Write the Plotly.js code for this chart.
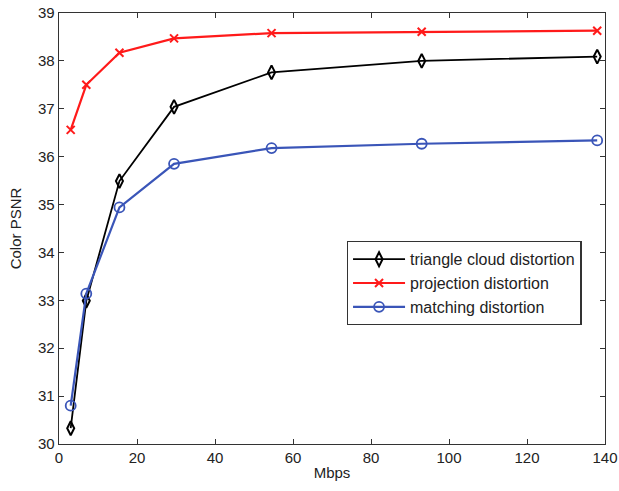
<!DOCTYPE html>
<html>
<head>
<meta charset="utf-8">
<script src="https://cdn.plot.ly/plotly-3.0.1.min.js"></script>
<style>html,body{margin:0;padding:0;background:#fff;}#chart{width:619px;height:491px;}</style>
</head>
<body>
<div id="chart"></div>
<script>
const mbps = [3, 7, 15.5, 29.5, 54.5, 93, 138];
const triangleCloud = [30.33, 32.99, 35.49, 37.04, 37.76, 38.0, 38.09];
const projection = [36.56, 37.5, 38.17, 38.47, 38.58, 38.61, 38.63];
const matching = [30.8, 33.14, 34.94, 35.85, 36.18, 36.27, 36.34];
const seriesNames = ['triangle cloud distortion', 'projection distortion', 'matching distortion'];

const font = 'Liberation Sans, Arial, sans-serif';
const traces = [
  {x: mbps, y: triangleCloud, name: seriesNames[0], mode: 'lines+markers', type: 'scatter',
   line: {color: '#000000', width: 1.8},
   marker: {symbol: 'diamond-tall-open', size: 10, color: '#000000', line: {width: 2, color: '#000000'}}},
  {x: mbps, y: projection, name: seriesNames[1], mode: 'lines+markers', type: 'scatter',
   line: {color: '#ff1a1a', width: 2.2},
   marker: {symbol: 'x-thin-open', size: 8, color: '#ff1a1a', line: {width: 2, color: '#ff1a1a'}}},
  {x: mbps, y: matching, name: seriesNames[2], mode: 'lines+markers', type: 'scatter',
   line: {color: '#3a55b8', width: 2.2},
   marker: {symbol: 'circle-open', size: 10, color: '#3a55b8', line: {width: 1.8, color: '#3a55b8'}}}
];

const axisCommon = {
  showgrid: false, zeroline: false, showline: true, mirror: 'ticks',
  linecolor: '#333', linewidth: 1.3, ticks: 'inside', ticklen: 5, tickcolor: '#333',
  tickfont: {family: font, size: 15, color: '#222'}
};

const layout = {
  width: 619, height: 491,
  margin: {l: 59, r: 14, t: 13, b: 47},
  paper_bgcolor: '#fff', plot_bgcolor: '#fff',
  showlegend: true,
  xaxis: Object.assign({}, axisCommon, {range: [0, 140], dtick: 20, tick0: 0,
    title: {text: 'Mbps', font: {family: font, size: 15, color: '#222'}, standoff: 2}}),
  yaxis: Object.assign({}, axisCommon, {range: [30, 39], dtick: 1, tick0: 30,
    title: {text: 'Color PSNR', font: {family: font, size: 15, color: '#222'}, standoff: 12}}),
  legend: {x: 0.527, y: 0.471, xanchor: 'left', yanchor: 'top',
    bordercolor: '#333', borderwidth: 1.3, bgcolor: '#fff', itemwidth: 52,
    font: {family: font, size: 16, color: '#222'}}
};

Plotly.newPlot('chart', traces, layout, {displayModeBar: false, staticPlot: true});
</script>
</body>
</html>
